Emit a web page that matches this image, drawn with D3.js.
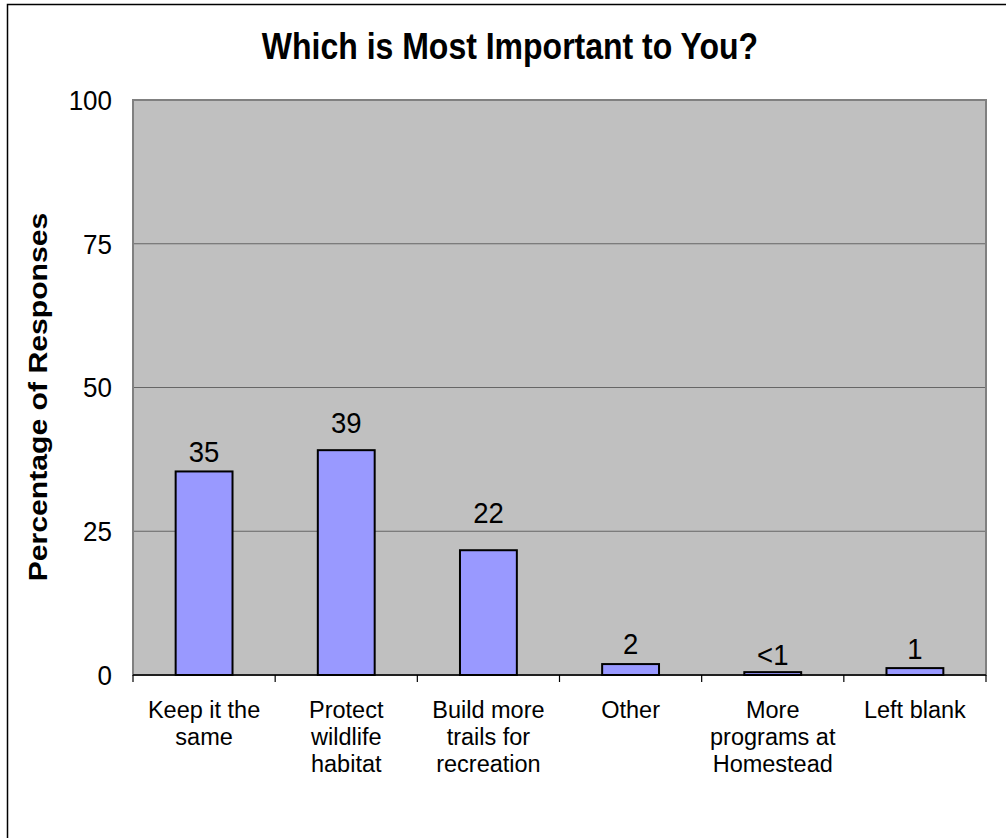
<!DOCTYPE html>
<html><head><meta charset="utf-8">
<script src="https://cdn.jsdelivr.net/npm/d3@7"></script>
<style>body{margin:0;background:#fff}svg{display:block}text{font-family:"Liberation Sans",Arial,sans-serif}</style>
</head><body>
<svg id="c" width="1006" height="838"></svg>
<script>
const categories = ["Keep it the same", "Protect wildlife habitat", "Build more trails for recreation", "Other", "More programs at Homestead", "Left blank"];
const categoryLines = [["Keep it the","same"],["Protect","wildlife","habitat"],["Build more","trails for","recreation"],["Other"],["More","programs at","Homestead"],["Left blank"]];
const values = [35.4, 39.1, 21.7, 1.9, 0.5, 1.2];
const valueLabels = ["35", "39", "22", "2", "<1", "1"];
const yTicks = [0, 25, 50, 75, 100];
const title = "Which is Most Important to You?";
const yTitle = "Percentage of Responses";
// layout nudges for data labels (pixels above bar top)
const labelGap = [9, 17, 27, 10, 7, 9];

const svg = d3.select("#c");
const L = 133, R = 986, T = 100, B = 675;

svg.append("rect").attr("x",7.5).attr("y",4.5).attr("width",1010).attr("height",840)
  .attr("fill","#fff").attr("stroke","#000").attr("stroke-width",1.5);

const x = d3.scaleBand().domain(categories).range([L,R]).paddingInner(0.6).paddingOuter(0.3);
const xb = d3.scaleBand().domain(categories).range([L,R]);
const y = d3.scaleLinear().domain([0,100]).range([B,T]);

svg.append("rect").attr("x",L).attr("y",T).attr("width",R-L).attr("height",B-T)
  .attr("fill","#c0c0c0");

svg.append("g").selectAll("line").data(yTicks.filter(d=>d>0 && d<100)).join("line")
  .attr("x1",L).attr("x2",R).attr("y1",d=>y(d)).attr("y2",d=>y(d))
  .attr("stroke","#666").attr("stroke-width",1.2);

svg.append("rect").attr("x",L).attr("y",T).attr("width",R-L).attr("height",B-T)
  .attr("fill","none").attr("stroke","#808080").attr("stroke-width",2);

// y tick labels
svg.append("g").selectAll("text").data(yTicks).join("text")
  .attr("transform",d=>`translate(112,${y(d)}) scale(1,1.05)`).attr("dy","0.36em").attr("text-anchor","end")
  .attr("font-size",26).attr("fill","#000").text(d=>d);

// bars
svg.append("g").selectAll("rect").data(values).join("rect")
  .attr("x",(d,i)=>x(categories[i])).attr("width",x.bandwidth())
  .attr("y",d=>y(d)).attr("height",d=>B-y(d))
  .attr("fill","#9999ff").attr("stroke","#000").attr("stroke-width",2);

// value labels
svg.append("g").selectAll("text").data(values).join("text")
  .attr("transform",(d,i)=>`translate(${x(categories[i])+x.bandwidth()/2},${y(d)-labelGap[i]}) scale(1,1.06)`)
  .attr("text-anchor","middle").attr("font-size",27.5).attr("fill","#000")
  .text((d,i)=>valueLabels[i]);

// x axis
const xa = svg.append("g");
xa.append("line").attr("x1",L).attr("x2",R).attr("y1",B).attr("y2",B).attr("stroke","#000").attr("stroke-width",1.5);
const bounds = categories.map(c=>xb(c)).concat([R]);
xa.selectAll("line.t").data(bounds).join("line").attr("class","t")
  .attr("x1",d=>d).attr("x2",d=>d).attr("y1",B).attr("y2",B+7).attr("stroke","#000").attr("stroke-width",1.2);

// x labels
categories.forEach((c,i)=>{
  const t = svg.append("text").attr("x",xb(c)+xb.bandwidth()/2).attr("y",718)
    .attr("text-anchor","middle").attr("font-size",23.5).attr("fill","#000");
  categoryLines[i].forEach((ln,j)=>{
    t.append("tspan").attr("x",xb(c)+xb.bandwidth()/2).attr("dy", j===0?0:27).text(ln);
  });
});

// title
svg.append("text").attr("transform","translate(510,59) scale(1,1.13)").attr("text-anchor","middle")
  .attr("font-size",32).attr("font-weight","bold").attr("fill","#000").text(title);

// y title
svg.append("text").attr("transform","translate(47,397) rotate(-90) scale(1.16,1)").attr("text-anchor","middle")
  .attr("font-size",26).attr("font-weight","bold").attr("fill","#000").text(yTitle);
</script>
</body></html>
